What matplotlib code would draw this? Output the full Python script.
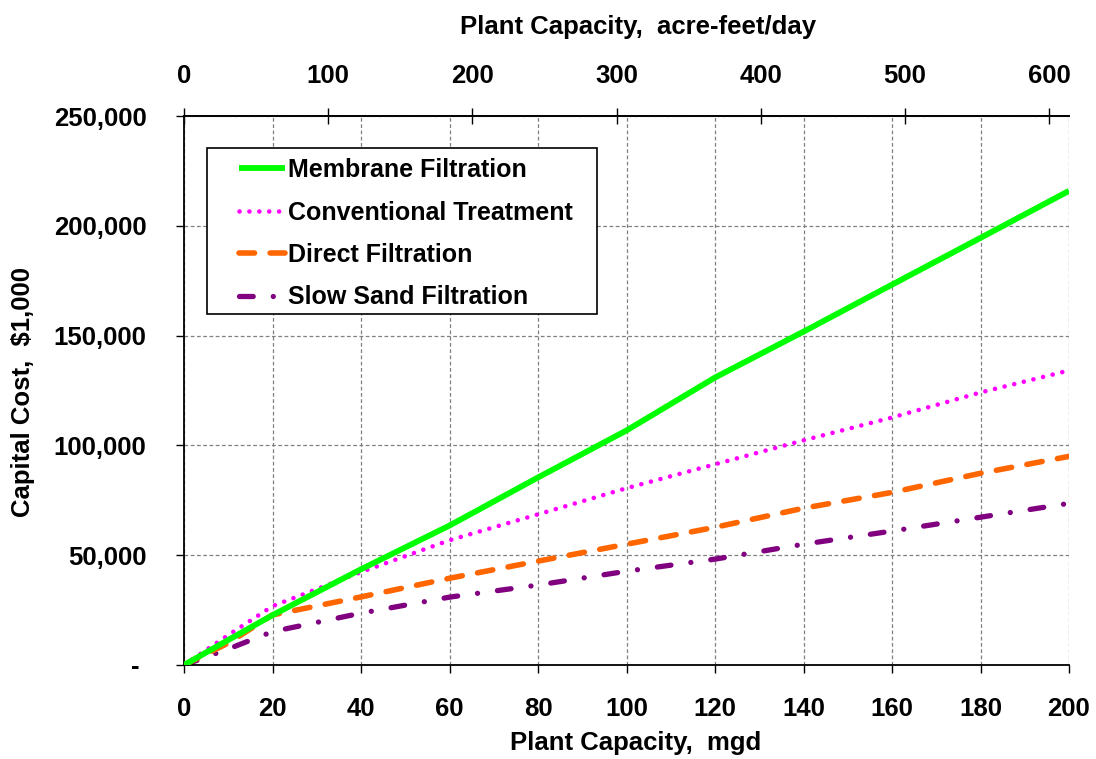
import matplotlib
matplotlib.use('Agg')
import matplotlib.pyplot as plt
from matplotlib.ticker import FuncFormatter, MultipleLocator, FixedLocator
from matplotlib.patches import Rectangle

plt.rcParams['font.family'] = ['Liberation Sans', 'DejaVu Sans']
plt.rcParams['font.weight'] = 'bold'

# plant capacity, mgd
capacity = [0, 10, 20, 40, 60, 80, 100, 120, 140, 160, 180, 200]
# capital cost, $1,000
membrane = [0, 11400, 22700, 43600, 63500, 85400, 106800, 130900, 151800, 173200, 194500, 215900]
conventional = [0, 13600, 26800, 42300, 56800, 68600, 80500, 91400, 102300, 112700, 124100, 134100]
direct = [0, 10000, 22800, 31000, 39500, 47300, 55000, 62700, 71400, 78600, 87300, 95000]
slow_sand = [0, 7300, 15200, 23600, 30900, 36400, 42700, 48200, 55000, 61000, 67300, 73600]
top_ticks = [0, 100, 200, 300, 400, 500, 600]

AF_PER_MGD = 3.0689  # acre-feet/day per mgd

fig = plt.figure(figsize=(10.96, 7.59), dpi=100)
ax = fig.add_axes([184/1096, 1-665/759, 885/1096, 549/759])

ax.plot(capacity, membrane, color='#00FF00', lw=4.2, solid_capstyle='butt',
        label='Membrane Filtration', zorder=5)
ax.plot(capacity, conventional, color='#FF00FF', lw=3.3,
        linestyle=(0, (0.01, 2.15)), dash_capstyle='round',
        label='Conventional Treatment', zorder=4)
ax.plot(capacity, direct, color='#FF6600', lw=4.0,
        linestyle=(0, (2.8, 2.8)), dash_capstyle='round',
        label='Direct Filtration', zorder=3)
ax.plot(capacity, slow_sand, color='#800080', lw=3.8,
        linestyle=(0, (2.6, 3.8, 0.01, 3.8)), dash_capstyle='round',
        label='Slow Sand Filtration', zorder=2)

ax.set_xlim(0, 200)
ax.set_ylim(0, 250000)
ax.xaxis.set_major_locator(MultipleLocator(20))
ax.yaxis.set_major_locator(MultipleLocator(50000))
ax.yaxis.set_major_formatter(FuncFormatter(lambda v, p: '- ' if v == 0 else f'{v:,.0f}'))
ax.grid(True, color='#808080', linestyle=(0, (3, 2)), lw=0.9)
ax.set_axisbelow(True)

ax.spines['right'].set_visible(False)
for s in ['left', 'bottom', 'top']:
    ax.spines[s].set_linewidth(1.3)
ax.tick_params(axis='x', direction='out', length=6, width=1, labelsize=18.5, pad=17)
ax.tick_params(axis='y', direction='out', length=6, width=1, labelsize=18.5, pad=21)

ax.set_xlabel('Plant Capacity,  mgd', fontsize=18.5, fontweight='bold')
ax.xaxis.set_label_coords(0.51, (665-743)/549)
ax.xaxis.label.set_va('center')
ax.set_ylabel('Capital Cost,  $1,000', fontsize=18.5, fontweight='bold')
ax.yaxis.set_label_coords((23-184)/885, (665-392)/549)
ax.yaxis.label.set_va('center')

sec = ax.secondary_xaxis('top', functions=(lambda x: x*AF_PER_MGD, lambda x: x/AF_PER_MGD))
sec.xaxis.set_major_locator(FixedLocator(top_ticks))
sec.tick_params(axis='x', direction='inout', length=12, width=1, labelsize=18.5, pad=14)
sec.spines['top'].set_linewidth(1.3)
fig.text(638/1096, 1-27/759, 'Plant Capacity,  acre-feet/day', fontsize=18.5,
         fontweight='bold', ha='center', va='center')

# legend box
ax.add_patch(Rectangle((23/885, (665-314)/549), 390/885, 166/549,
                       transform=ax.transAxes, facecolor='white', edgecolor='black',
                       lw=1.2, zorder=6))
leg = ax.legend(loc='upper left', bbox_to_anchor=((239-184)/885, (665-158)/549),
                frameon=False, fontsize=18, borderpad=0, borderaxespad=0,
                handlelength=1.85, handletextpad=0.12, labelspacing=0.74)
leg.set_zorder(7)

fig.savefig('out.png', dpi=100)
